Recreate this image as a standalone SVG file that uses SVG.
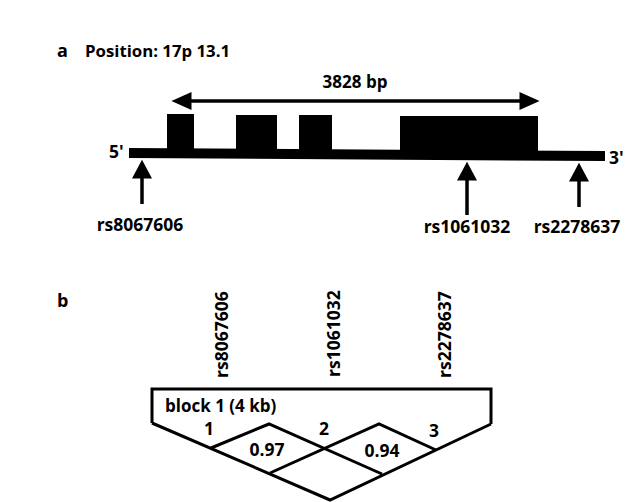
<svg xmlns="http://www.w3.org/2000/svg" width="631" height="502" viewBox="0 0 631 502">
<style>
text{font-family:"Open Sans","Liberation Sans",sans-serif;fill:#000;font-weight:700}
.lbl{font-size:17.5px}
.bold{font-weight:700;font-size:18px}
.ln{stroke:#000;fill:none}
.blk{fill:#000}
</style>
<defs>
<marker id="up" markerUnits="userSpaceOnUse" markerWidth="20" markerHeight="20" viewBox="0 0 18 18" refX="0.5" refY="9" orient="auto">
<path d="M0,0 L17,9 L0,18 z" fill="#000"/>
</marker>
<marker id="dh" markerUnits="userSpaceOnUse" markerWidth="22" markerHeight="18" viewBox="0 0 20 17" refX="0.5" refY="8.5" orient="auto-start-reverse">
<path d="M0,0 L19,8.5 L0,17 z" fill="#000"/>
</marker>
</defs>
<rect width="631" height="502" fill="#fff"/>

<g id="panel-a-title">
<text x="57" y="57" class="bold">a</text>
<text x="85" y="57" style="font-size:16.8px">Position: 17p 13.1</text>
</g>

<g id="gene">
<polygon class="blk" points="129,148 605,151 605,161 129,158"/>
<rect class="blk" x="167" y="114" width="27" height="40"/>
<rect class="blk" x="236" y="115" width="41" height="40"/>
<rect class="blk" x="299" y="115" width="33" height="40"/>
<rect class="blk" x="400" y="116" width="138" height="40"/>
<text x="109" y="158" class="lbl">5'</text>
<text x="609" y="164" class="lbl">3'</text>
</g>

<g id="length-label">
<text x="355" y="88" class="lbl" text-anchor="middle" style="font-size:17px">3828 bp</text>
</g>

<g id="connectors">
<line class="ln" x1="191" y1="101" x2="520" y2="101" stroke-width="3.5" marker-start="url(#dh)" marker-end="url(#dh)"/>
<line class="ln" x1="142" y1="204" x2="142" y2="178" stroke-width="3.5" marker-end="url(#up)"/>
<line class="ln" x1="467" y1="215" x2="467" y2="180" stroke-width="3.5" marker-end="url(#up)"/>
<line class="ln" x1="579" y1="207" x2="579" y2="181" stroke-width="3.5" marker-end="url(#up)"/>
</g>

<g id="snp-rs8067606">
<text x="140" y="231" class="lbl" text-anchor="middle">rs8067606</text>
</g>
<g id="snp-rs1061032">
<text x="467" y="233" class="lbl" text-anchor="middle">rs1061032</text>
</g>
<g id="snp-rs2278637">
<text x="577" y="233" class="lbl" text-anchor="middle">rs2278637</text>
</g>

<g id="panel-b-title">
<text x="57" y="307" class="bold">b</text>
</g>

<g id="vertical-labels">
<text transform="translate(228,378) rotate(-90)" class="lbl">rs8067606</text>
<text transform="translate(340,377) rotate(-90)" class="lbl">rs1061032</text>
<text transform="translate(451,378) rotate(-90)" class="lbl">rs2278637</text>
</g>

<g id="ld-block">
<path class="ln" stroke-width="3" d="M152,423 L152,389 L491,389 L491,424"/>
<path class="ln" stroke-width="3" d="M152,423 L330,500 L491,424"/>
<path class="ln" stroke-width="3" d="M211,448 L269,424 L382,474"/>
<path class="ln" stroke-width="3" d="M270,473 L379,424 L436,450"/>
<text x="165" y="412" class="lbl" style="font-size:17px">block 1 (4 kb)</text>
<text x="209" y="435" class="lbl" text-anchor="middle">1</text>
<text x="324" y="435" class="lbl" text-anchor="middle">2</text>
<text x="434" y="437" class="lbl" text-anchor="middle">3</text>
<text x="267" y="456" class="lbl" text-anchor="middle">0.97</text>
<text x="382" y="457" class="lbl" text-anchor="middle">0.94</text>
</g>
</svg>
